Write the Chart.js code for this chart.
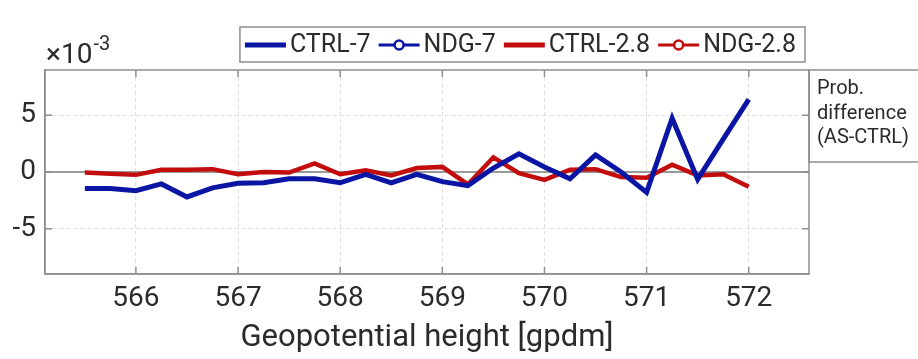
<!DOCTYPE html>
<html>
<head>
<meta charset="utf-8">
<script src="https://cdn.jsdelivr.net/npm/chart.js@4.4.1/dist/chart.umd.min.js"></script>
<style>
  html, body { margin: 0; padding: 0; background: #fff; }
  #wrap { width: 918px; height: 359px; position: relative; }
</style>
</head>
<body>
<div id="wrap"><canvas id="probChart" width="918" height="359"></canvas></div>
<script>
// geopotential height [gpdm]
const heights = [565.5, 565.75, 566, 566.25, 566.5, 566.75, 567, 567.25, 567.5, 567.75,
  568, 568.25, 568.5, 568.75, 569, 569.25, 569.5, 569.75, 570, 570.25, 570.5, 570.75,
  571, 571.25, 571.5, 571.75, 572];

// probability difference, units of 1e-3
const ctrl7 = [-1.45, -1.45, -1.65, -1.05, -2.2, -1.4, -1.0, -0.95, -0.6, -0.6,
  -0.95, -0.2, -0.95, -0.2, -0.85, -1.2, 0.35, 1.6, 0.45, -0.6, 1.5, 0,
  -1.8, 4.75, -0.65, 2.9, 6.4];
const ctrl28 = [-0.05, -0.15, -0.25, 0.2, 0.2, 0.25, -0.2, 0, -0.05, 0.75,
  -0.2, 0.15, -0.3, 0.35, 0.45, -1.1, 1.3, -0.1, -0.7, 0.2, 0.25, -0.45,
  -0.5, 0.65, -0.3, -0.2, -1.3];
// NDG series show up in the legend only
const ndg7 = [];
const ndg28 = [];

const xTicks = [566, 567, 568, 569, 570, 571, 572];
const yTicks = [-5, 0, 5];

const BLUE = "#0b15a3";
const RED = "#c30d0d";
const TEXT = "#2b2b2b";
const FONT = "Roboto, 'Liberation Sans', sans-serif";

function toPoints(ys) {
  return ys.map((y, i) => ({ x: heights[i], y }));
}

// legend, inward ticks, frame, exponent and side note
const decorPlugin = {
  id: "decor",
  beforeDatasetsDraw(chart) {
    const { ctx, chartArea: a, scales } = chart;
    const y0 = scales.y.getPixelForValue(0);
    ctx.save();
    ctx.strokeStyle = "#9a9a9a";
    ctx.lineWidth = 2;
    ctx.beginPath();
    ctx.moveTo(a.left, y0);
    ctx.lineTo(a.right, y0);
    ctx.stroke();
    ctx.restore();
  },
  afterDraw(chart) {
    const { ctx, chartArea: a, scales } = chart;
    ctx.save();

    // frame
    ctx.strokeStyle = "#8f8f8f";
    ctx.lineWidth = 1.5;
    ctx.strokeRect(a.left, a.top, a.right - a.left, a.bottom - a.top);

    // inward ticks
    ctx.beginPath();
    xTicks.forEach((v) => {
      const px = scales.x.getPixelForValue(v);
      ctx.moveTo(px, a.bottom); ctx.lineTo(px, a.bottom - 7);
      ctx.moveTo(px, a.top); ctx.lineTo(px, a.top + 7);
    });
    yTicks.forEach((v) => {
      const py = scales.y.getPixelForValue(v);
      ctx.moveTo(a.left, py); ctx.lineTo(a.left + 7, py);
      ctx.moveTo(a.right, py); ctx.lineTo(a.right - 7, py);
    });
    ctx.stroke();

    // x10^-3
    ctx.fillStyle = TEXT;
    ctx.textBaseline = "alphabetic";
    ctx.textAlign = "left";
    ctx.font = "28px " + FONT;
    ctx.fillText("\u00d710", 46, 63);
    const w = ctx.measureText("\u00d710").width;
    ctx.font = "20px " + FONT;
    ctx.fillText("-3", 47 + w, 50);

    // side note box
    ctx.strokeStyle = "#8f8f8f";
    ctx.lineWidth = 1.5;
    ctx.strokeRect(a.right, a.top, 130, 92);
    ctx.fillStyle = TEXT;
    ctx.font = "20px " + FONT;
    ctx.textBaseline = "middle";
    ["Prob.", "difference", "(AS-CTRL)"].forEach((t, i) => {
      ctx.fillText(t, a.right + 8, 89 + i * 24.5);
    });

    // legend
    const items = chart.data.datasets;
    ctx.font = "25px " + FONT;
    const lineLen = 41, gapIn = 4, gapOut = 8;
    let total = 6;
    items.forEach((d) => { total += lineLen + gapIn + ctx.measureText(d.label).width + gapOut; });
    let lx = 805 - total;
    const ly = 45;
    ctx.fillStyle = "#fff";
    ctx.fillRect(lx, 27, total, 35);
    ctx.strokeStyle = "#8f8f8f";
    ctx.lineWidth = 1.5;
    ctx.strokeRect(lx, 27, total, 35);
    let cx = lx + 5;
    items.forEach((d) => {
      ctx.strokeStyle = d.borderColor;
      ctx.lineWidth = d.marker ? 3 : 5;
      ctx.beginPath();
      ctx.moveTo(cx, ly); ctx.lineTo(cx + lineLen, ly);
      ctx.stroke();
      if (d.marker) {
        ctx.fillStyle = "#fff";
        ctx.lineWidth = 2.5;
        ctx.beginPath();
        ctx.arc(cx + lineLen / 2, ly, 4.5, 0, Math.PI * 2);
        ctx.fill();
        ctx.stroke();
      }
      cx += lineLen + gapIn;
      ctx.fillStyle = TEXT;
      ctx.textBaseline = "middle";
      ctx.fillText(d.label, cx, ly + 1);
      cx += ctx.measureText(d.label).width + gapOut;
    });

    ctx.restore();
  },
};

new Chart(document.getElementById("probChart"), {
  type: "line",
  data: {
    datasets: [
      { label: "CTRL-7", data: toPoints(ctrl7), borderColor: BLUE, borderWidth: 5, pointRadius: 0 },
      { label: "NDG-7", data: ndg7, borderColor: BLUE, borderWidth: 3, pointRadius: 4, marker: true },
      { label: "CTRL-2.8", data: toPoints(ctrl28), borderColor: RED, borderWidth: 4.5, pointRadius: 0 },
      { label: "NDG-2.8", data: ndg28, borderColor: RED, borderWidth: 3, pointRadius: 4, marker: true },
    ],
  },
  options: {
    responsive: false,
    animation: false,
    layout: { padding: { top: 70, right: 109, left: 0, bottom: 0 } },
    plugins: { legend: { display: false }, tooltip: { enabled: false } },
    elements: { line: { tension: 0, borderJoinStyle: "miter" } },
    scales: {
      x: {
        type: "linear",
        min: 565.11,
        max: 572.59,
        afterBuildTicks: (axis) => { axis.ticks = xTicks.map((v) => ({ value: v })); },
        afterFit: (axis) => { axis.height = 85; },
        grid: { color: "#dedede", lineWidth: 1, drawTicks: false },
        border: { display: true, color: "#8f8f8f", width: 1.5, dash: [4, 3] },
        ticks: { color: TEXT, font: { size: 28, family: FONT }, padding: 8, maxRotation: 0 },
        title: {
          display: true,
          text: "Geopotential height [gpdm]",
          color: TEXT,
          font: { size: 31, family: FONT },
          padding: { top: 0, bottom: 2 },
        },
      },
      y: {
        min: -9,
        max: 9,
        afterBuildTicks: (axis) => { axis.ticks = yTicks.map((v) => ({ value: v })); },
        afterFit: (axis) => { axis.width = 45; },
        grid: { color: (c) => (c.tick && c.tick.value === 0 ? "rgba(0,0,0,0)" : "#dedede"), lineWidth: 1, drawTicks: false },
        border: { display: true, color: "#8f8f8f", width: 1.5, dash: [4, 3] },
        ticks: { color: TEXT, font: { size: 28, family: FONT }, padding: 9 },
      },
    },
  },
  plugins: [decorPlugin],
});
</script>
</body>
</html>
